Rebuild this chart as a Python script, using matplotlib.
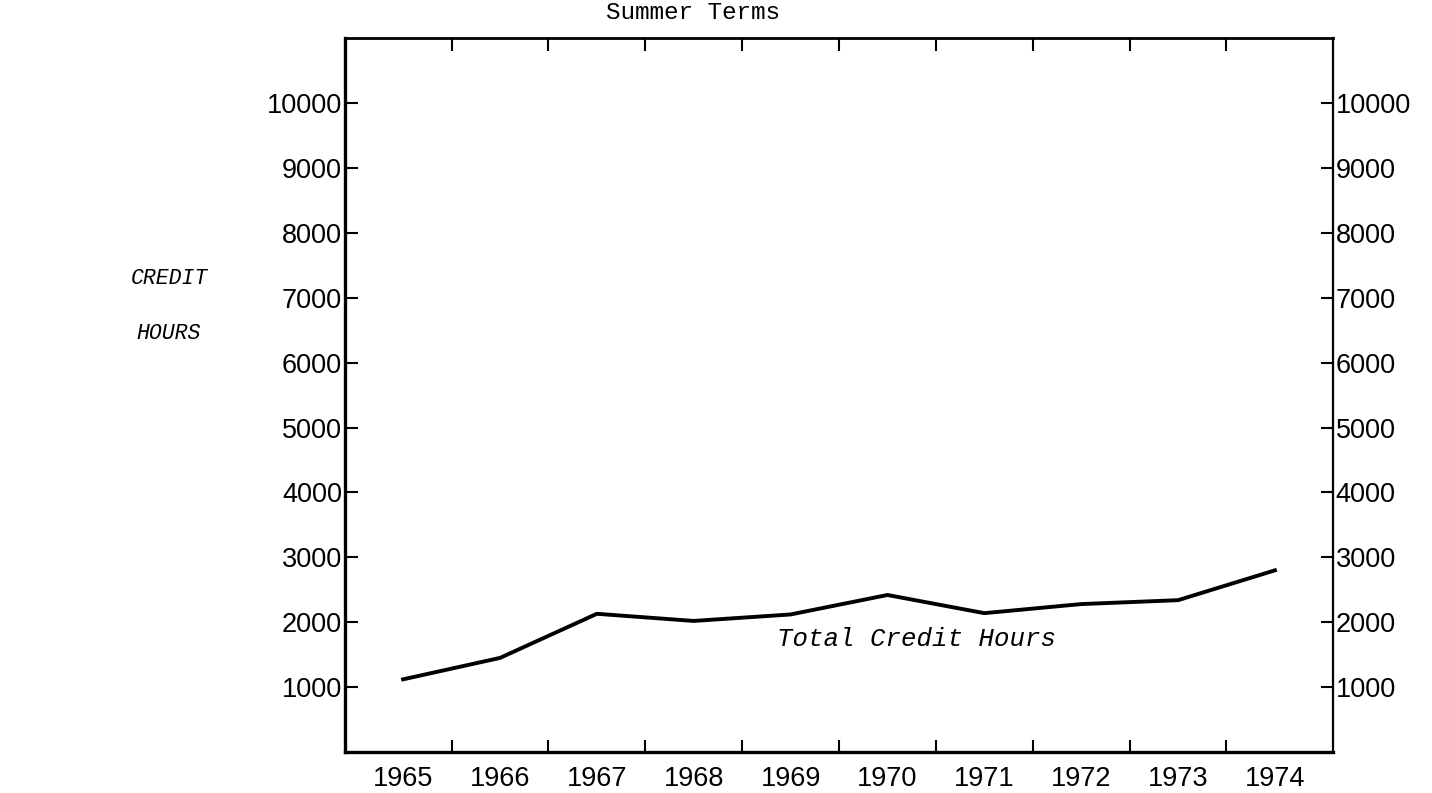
import numpy as np
import matplotlib
matplotlib.use("Agg")
import matplotlib.pyplot as plt

# data
years = [1965, 1966, 1967, 1968, 1969, 1970, 1971, 1972, 1973, 1974]
credit_hours = [1120, 1450, 2130, 2020, 2120, 2420, 2140, 2280, 2340, 2800]
y_ticks = [1000, 2000, 3000, 4000, 5000, 6000, 7000, 8000, 9000, 10000]

fig = plt.figure(figsize=(14.32, 7.93), dpi=100)
ax = fig.add_axes([0.2409, 0.0517, 0.690, 0.900])

ax.plot(years, credit_hours, color='black', lw=2.8, solid_joinstyle='round')

ax.set_xlim(1964.4, 1974.6)
ax.set_ylim(0, 11000)

# year labels sit between the tick marks
ax.set_xticks([y + 0.5 for y in years[:-1]])
ax.set_xticklabels([])
ax.set_xticks(years, minor=True)
ax.set_xticklabels([str(y) for y in years], minor=True)
ax.tick_params(axis='x', which='major', direction='in', length=9, width=1.5,
               top=True, bottom=True)
ax.tick_params(axis='x', which='minor', length=0, pad=10)

ax.set_yticks(y_ticks)
ax.set_yticklabels([str(v) for v in y_ticks])
ax.tick_params(axis='y', direction='in', length=9, width=1.5,
               left=True, right=True, labelleft=True, labelright=True, pad=2)

for lab in ax.get_xticklabels(minor=True):
    lab.set_fontfamily('Liberation Sans')
    lab.set_fontsize(19.5)
for lab in ax.yaxis.get_ticklabels(which='both'):
    lab.set_fontfamily('Liberation Sans')
    lab.set_fontsize(19.5)

for side in ['left', 'bottom']:
    ax.spines[side].set_linewidth(2.4)
ax.spines['top'].set_linewidth(2.0)
ax.spines['right'].set_linewidth(1.6)

ax.text(1970.3, 1740, 'Total Credit Hours', family='Liberation Mono',
        style='italic', fontsize=18.5, ha='center', va='center')

fig.text(0.484, 0.984, 'Summer Terms', family='Liberation Mono',
         fontsize=17.5, ha='center', va='center')
fig.text(0.118, 0.649, 'CREDIT', family='Liberation Mono', style='italic',
         fontsize=15.5, ha='center', va='center')
fig.text(0.118, 0.580, 'HOURS', family='Liberation Mono', style='italic',
         fontsize=15.5, ha='center', va='center')

fig.savefig('out.png', dpi=100)
